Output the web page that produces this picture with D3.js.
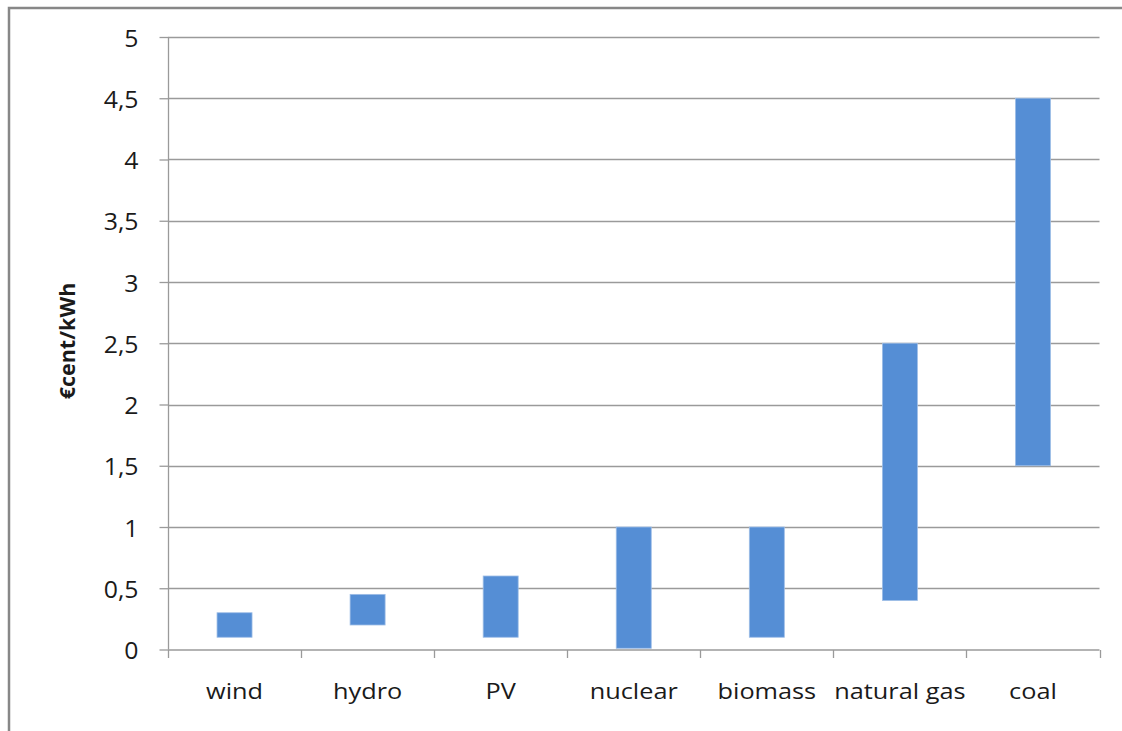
<!DOCTYPE html>
<html>
<head>
<meta charset="utf-8">
<script src="https://cdn.jsdelivr.net/npm/d3@7"></script>
<style>
  html, body { margin: 0; padding: 0; background: #fff; }
  svg { display: block; }
  text { font-family: "Open Sans", Lato, sans-serif; fill: #1a1a1a; }
</style>
</head>
<body>
<script>
// Cost ranges per generation technology (€cent/kWh)
const categories = ["wind", "hydro", "PV", "nuclear", "biomass", "natural gas", "coal"];
const lowValues  = [0.1, 0.2, 0.1, 0.01, 0.1, 0.4, 1.5];
const highValues = [0.3, 0.45, 0.6, 1.0, 1.0, 2.5, 4.5];
const yTickValues = [0, 0.5, 1, 1.5, 2, 2.5, 3, 3.5, 4, 4.5, 5];
const yTitle = "€cent/kWh";

const W = 1122, H = 731;
const plot = { left: 168, right: 1099.5, top: 37, bottom: 649.5 };
const gridColor = "#9a9a9a";

const svg = d3.select("body").append("svg").attr("width", W).attr("height", H);

// outer frame
svg.append("path")
  .attr("d", `M9,${H} V8 H${W}`)
  .attr("fill", "none").attr("stroke", "#878787").attr("stroke-width", 2.5);

const x = d3.scaleBand().domain(categories).range([plot.left, plot.right]).paddingInner(0).paddingOuter(0);
const y = d3.scaleLinear().domain([0, 5]).range([plot.bottom, plot.top]);

// horizontal gridlines
svg.append("g").selectAll("line").data(yTickValues.filter(v => v > 0)).join("line")
  .attr("x1", plot.left).attr("x2", plot.right)
  .attr("y1", d => Math.round(y(d)) + 0.5).attr("y2", d => Math.round(y(d)) + 0.5)
  .attr("stroke", gridColor).attr("stroke-width", 1.3);

// y axis with comma decimal labels
const fmt = d => String(d).replace(".", ",");
const yAxis = svg.append("g")
  .attr("transform", `translate(${plot.left + 0.5},0)`)
  .call(d3.axisLeft(y).tickValues(yTickValues).tickFormat(fmt).tickSize(9));
yAxis.select(".domain").attr("stroke", gridColor).attr("stroke-width", 1.3).attr("d", `M0,${plot.top}V${plot.bottom}`);
yAxis.selectAll(".tick line").attr("stroke", gridColor).attr("stroke-width", 1.3);
yAxis.selectAll(".tick text")
  .attr("x", null).attr("dy", null)
  .attr("font-size", 23).attr("fill", "#1a1a1a")
  .attr("dominant-baseline", "central")
  .attr("transform", "translate(-30,0) scale(1.08,1)")
  .style("font-family", '"Open Sans", sans-serif');

// range bars (low to high)
const barW = 35;
svg.append("g").selectAll("rect").data(categories).join("rect")
  .attr("x", (d) => x(d) + x.bandwidth() / 2 - barW / 2)
  .attr("y", (d, i) => y(highValues[i]))
  .attr("width", barW)
  .attr("height", (d, i) => y(lowValues[i]) - y(highValues[i]))
  .attr("fill", "#558ed5")
  .attr("stroke", "#9dbde6").attr("stroke-width", 0.8);

// x axis
const xAxis = svg.append("g")
  .attr("transform", `translate(0,${plot.bottom + 0.5})`)
  .call(d3.axisBottom(x).tickSize(0));
xAxis.select(".domain").attr("stroke", gridColor).attr("stroke-width", 1.3).attr("d", `M${plot.left},0H${plot.right}`);
xAxis.selectAll(".tick text")
  .attr("y", null).attr("dy", null)
  .attr("font-size", 22).attr("fill", "#1a1a1a")
  .attr("transform", "translate(0,48.5) scale(1.15,1)")
  .style("font-family", '"Open Sans", sans-serif');
// category boundary ticks
const bounds = categories.map(c => x(c)).concat([plot.right]);
xAxis.append("g").selectAll("line").data(bounds).join("line")
  .attr("x1", d => Math.round(d) + 0.5).attr("x2", d => Math.round(d) + 0.5)
  .attr("y1", 0).attr("y2", 8)
  .attr("stroke", gridColor).attr("stroke-width", 1.3);

// y axis title
svg.append("text")
  .attr("transform", `translate(75,341) rotate(-90)`)
  .attr("text-anchor", "middle")
  .attr("font-size", 21.5).attr("font-weight", "bold")
  .text(yTitle);
</script>
</body>
</html>
